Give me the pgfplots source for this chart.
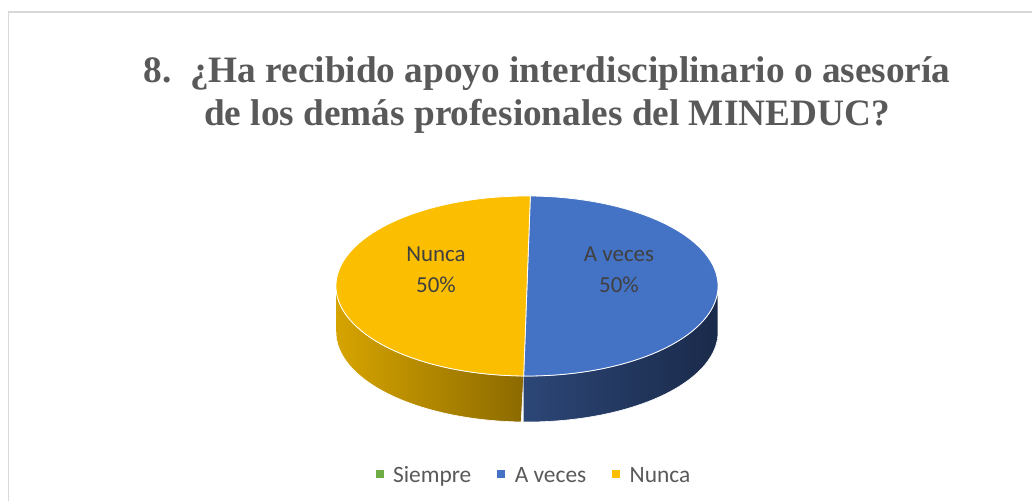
\documentclass[border=0pt]{standalone}
\usepackage{pgfplots}
\pgfplotsset{compat=1.18}
\usepackage{pgfplotstable}
\usepackage{fontspec}
\setmainfont{Liberation Serif}
\newfontfamily\calibri{Carlito}
\definecolor{ttl}{HTML}{595959}
\definecolor{lbl}{HTML}{404040}
\definecolor{frame}{HTML}{D9D9D9}
\definecolor{cGreen}{HTML}{70AD47}
\definecolor{cBlue}{HTML}{4472C4}
\definecolor{cYellow}{HTML}{FBBE00}
\definecolor{sBlueL}{HTML}{2C4676}
\definecolor{sBlueM}{HTML}{1D2E50}
\definecolor{sBlueR}{HTML}{1A2A4A}
\definecolor{sYelL}{HTML}{D6A400}
\definecolor{sYelM}{HTML}{B58A00}
\definecolor{sYelR}{HTML}{8C6A00}

\pgfplotstableread{
label value
Siempre 0
Aveces 50
Nunca 50
}\piedata

\begin{document}
\begin{tikzpicture}
% pie geometry (axis units = px)
\def\cx{527}\def\cy{215}\def\ra{191}\def\rb{90}\def\dep{46}
\pgfplotstablegetelem{0}{value}\of\piedata \let\vS\pgfplotsretval
\pgfplotstablegetelem{1}{value}\of\piedata \let\vA\pgfplotsretval
\pgfplotstablegetelem{2}{value}\of\piedata \let\vN\pgfplotsretval
\pgfmathsetmacro\aS{89}
\pgfmathsetmacro\aA{\aS-3.6*\vS}      % start of A veces
\pgfmathsetmacro\aN{\aA-3.6*\vA}      % start of Nunca
\pgfmathsetmacro\aE{\aN-3.6*\vN}      % end of Nunca
% visible side ranges (front half: -180..0)
\pgfmathsetmacro\sAa{max(\aN,-180)}\pgfmathsetmacro\sAb{min(\aA,0)}
\pgfmathsetmacro\sNa{max(\aE,-180)}\pgfmathsetmacro\sNb{min(\aN,0)}
\begin{axis}[
  at={(0,0)}, anchor=south west,
  width=1032bp, height=501bp, scale only axis,
  xmin=0, xmax=1032, ymin=0, ymax=501,
  hide axis, clip=false,
  legend style={at={(axis cs:533,27)}, anchor=center, draw=none, fill=none,
    font=\calibri\fontsize{23.5}{27}\selectfont, text=ttl,
    nodes={inner sep=0pt},
    /tikz/every odd column/.append style={column sep=10bp},
    /tikz/every even column/.append style={column sep=26bp},
    legend columns=3},
  legend image code/.code={\fill[#1] (0bp,-3.5bp) rectangle (7bp,3.5bp);},
]
% side walls
\addplot[forget plot, domain=0:2, samples=241, variable=\s,
  left color=sYelL, middle color=sYelM, right color=sYelR, draw=white, line width=0.6bp]
  ({\cx+\ra*cos(ifthenelse(\s<=1, \sNa+(\sNb-\sNa)*\s, \sNb-(\sNb-\sNa)*(\s-1)))},
   {\cy+\rb*sin(ifthenelse(\s<=1, \sNa+(\sNb-\sNa)*\s, \sNb-(\sNb-\sNa)*(\s-1))) - ifthenelse(\s<=1,0,\dep)});
\addplot[forget plot, domain=0:2, samples=241, variable=\s,
  left color=sBlueL, middle color=sBlueM, right color=sBlueR, draw=white, line width=0.6bp]
  ({\cx+\ra*cos(ifthenelse(\s<=1, \sAa+(\sAb-\sAa)*\s, \sAb-(\sAb-\sAa)*(\s-1)))},
   {\cy+\rb*sin(ifthenelse(\s<=1, \sAa+(\sAb-\sAa)*\s, \sAb-(\sAb-\sAa)*(\s-1))) - ifthenelse(\s<=1,0,\dep)});
% top faces
\addplot[forget plot, domain=\aN:\aA, samples=181, variable=\t,
  fill=cBlue, draw=white, line width=0.8bp]
  ({\cx+\ra*cos(\t)},{\cy+\rb*sin(\t)}) -- cycle;
\addplot[forget plot, domain=\aE:\aN, samples=181, variable=\t,
  fill=cYellow, draw=white, line width=0.8bp]
  ({\cx+\ra*cos(\t)},{\cy+\rb*sin(\t)}) -- cycle;
% legend
\addlegendimage{cGreen}\addlegendentry{Siempre\strut}
\addlegendimage{cBlue}\addlegendentry{A veces\strut}
\addlegendimage{cYellow}\addlegendentry{Nunca\strut}
% labels
\node[font=\calibri\fontsize{23}{31}\selectfont, text=lbl, anchor=base] at (axis cs:436,239) {Nunca};
\node[font=\calibri\fontsize{23}{31}\selectfont, text=lbl, anchor=base] at (axis cs:436,208) {50\%};
\node[font=\calibri\fontsize{23}{31}\selectfont, text=lbl, anchor=base] at (axis cs:619,239) {A veces};
\node[font=\calibri\fontsize{23}{31}\selectfont, text=lbl, anchor=base] at (axis cs:619,208) {50\%};
% title
\node[font=\bfseries\fontsize{37.4}{43}\selectfont, text=ttl, anchor=base] at (axis cs:547,418) {8.\ \ ¿Ha recibido apoyo interdisciplinario o asesoría};
\node[font=\bfseries\fontsize{37.4}{43}\selectfont, text=ttl, anchor=base] at (axis cs:547,375) {de los demás profesionales del MINEDUC?};
% chart frame
\draw[frame, line width=1.5bp] (axis cs:8.5,-10) |- (axis cs:1050,489);
\end{axis}
\pgfresetboundingbox
\path[use as bounding box] (0,0) rectangle (1032bp,501bp);
\end{tikzpicture}
\end{document}
